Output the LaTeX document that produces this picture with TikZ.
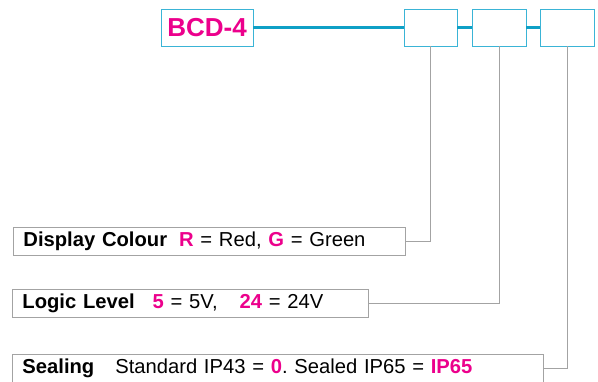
\documentclass[tikz,border=0pt]{standalone}
\usepackage{fontspec}
\setmainfont{Liberation Sans}
\usetikzlibrary{positioning,calc}
\definecolor{hot}{HTML}{EC008C}
\definecolor{cyanedge}{HTML}{3AB4D6}
\definecolor{cyanline}{HTML}{0EA0C6}
\definecolor{leadgray}{HTML}{A3A3A3}
\tikzset{
  codebox/.style={draw=cyanedge, line width=0.9pt, fill=white, inner sep=0pt,
                  minimum height=37pt, text=hot, font=\fontsize{26}{28}\selectfont\bfseries},
  slotbox/.style={draw=cyanedge, line width=0.9pt, fill=white, inner sep=0pt,
                  minimum width=54pt, minimum height=37pt},
  descbox/.style={draw=leadgray, line width=0.9pt, fill=white, anchor=west,
                  inner xsep=10pt, inner ysep=0pt, minimum height=28pt, align=left,
                  font=\fontsize{20.2}{22}\selectfont},
  bus/.style={line width=3pt, color=cyanline},
  lead/.style={line width=0.9pt, color=leadgray}}
\newcommand{\hl}[1]{\textcolor{hot}{\bfseries #1}}
\frenchspacing

\begin{document}
\begin{tikzpicture}[x=1pt, y=-1pt]
  \useasboundingbox (0,0) rectangle (598,381);
  \clip (0,0) rectangle (598,381);
  % part code and the three option slots
  \node[codebox, minimum width=92pt] (code) at (207,27.5) {BCD-4};
  \node[slotbox, minimum width=53pt] (slotA) at (430.5,27.5) {};
  \node[slotbox] (slotB) at (499,27.5) {};
  \node[slotbox] (slotC) at (567,27.5) {};
  \draw[bus] (code.east) -- (slotA.west);
  \draw[bus] (slotA.east) -- (slotB.west);
  \draw[bus] (slotB.east) -- (slotC.west);
  % option descriptions
  \node[descbox, text width=372pt] (colour) at (13,241.5)
    {{\bfseries Display Colour}\hspace{12pt}\hl{R} = Red, \hl{G} = Green};
  \node[descbox, text width=336pt] (level) at (12,303.5)
    {{\bfseries Logic Level}\hspace{18pt}\hl{5} = 5V,\hspace{22pt}\hl{24} = 24V};
  \node[descbox, text width=511pt] (seal) at (12,368)
    {{\bfseries Sealing}\hspace{21pt}Standard IP43 = \hl{0}. Sealed IP65 = \hl{IP65}};
  \draw[lead] (slotA.south) |- (colour.east);
  \draw[lead] (slotB.south) |- (level.east);
  \draw[lead] (slotC.south) |- (seal.east);
\end{tikzpicture}
\end{document}
